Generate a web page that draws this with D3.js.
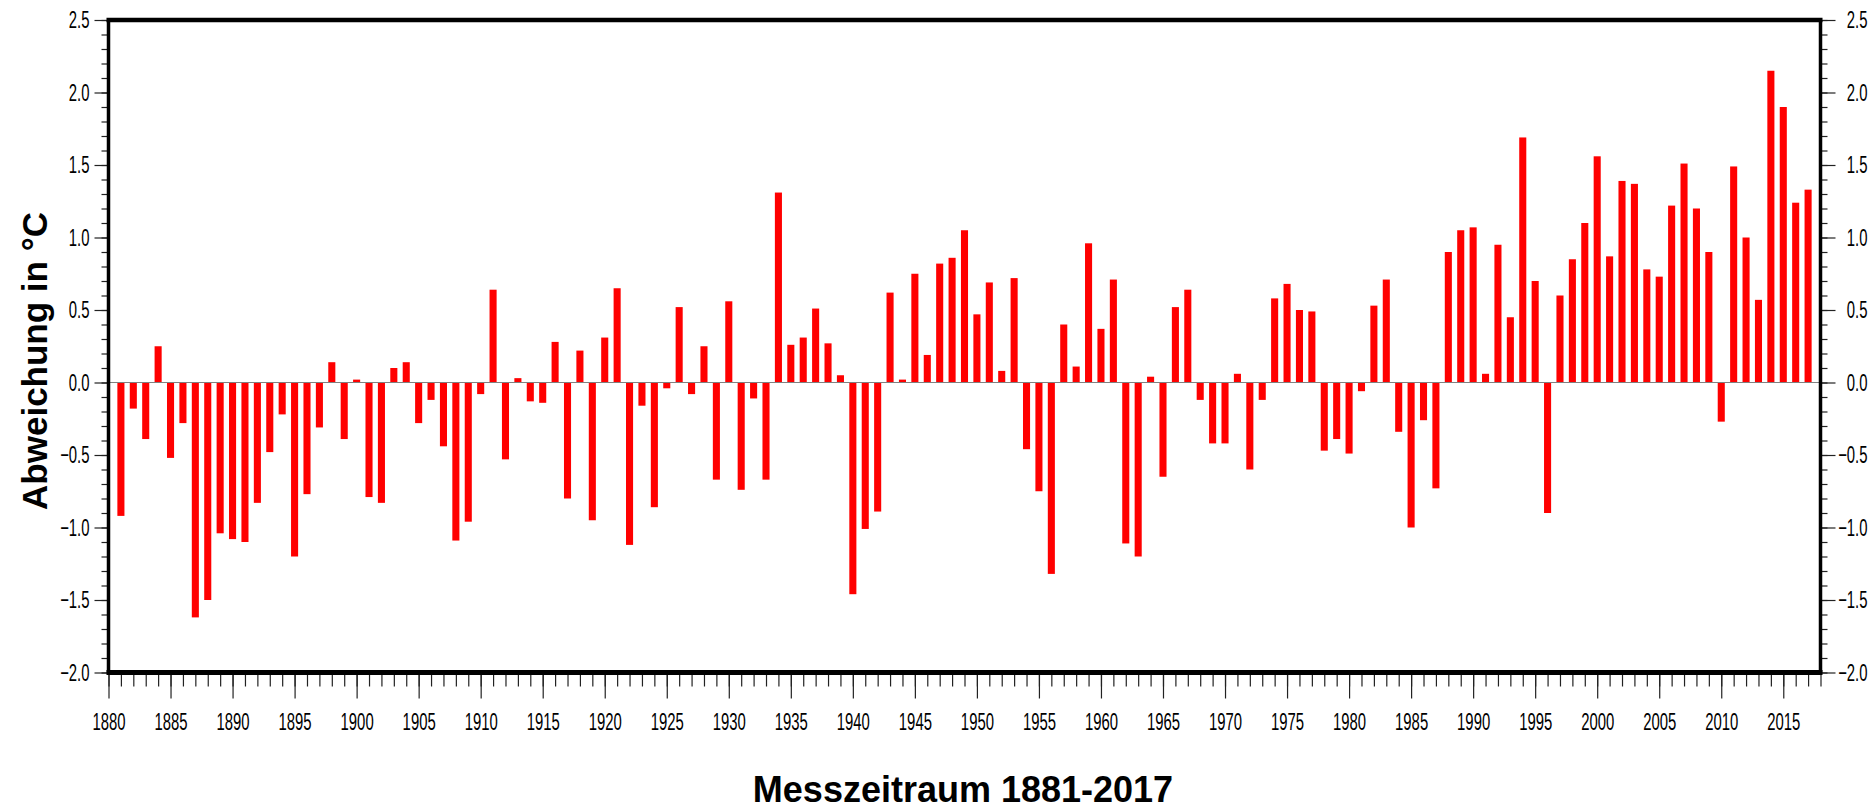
<!DOCTYPE html>
<html>
<head>
<meta charset="utf-8">
<title>Abweichung</title>
<script src="https://cdn.jsdelivr.net/npm/d3@7/dist/d3.min.js"></script>
<style>
body { margin: 0; background: #fff; }
</style>
</head>
<body>
<script>

// years of the measuring period
var years = [
    1881, 1882, 1883, 1884, 1885, 1886, 1887, 1888, 1889, 1890,
    1891, 1892, 1893, 1894, 1895, 1896, 1897, 1898, 1899, 1900,
    1901, 1902, 1903, 1904, 1905, 1906, 1907, 1908, 1909, 1910,
    1911, 1912, 1913, 1914, 1915, 1916, 1917, 1918, 1919, 1920,
    1921, 1922, 1923, 1924, 1925, 1926, 1927, 1928, 1929, 1930,
    1931, 1932, 1933, 1934, 1935, 1936, 1937, 1938, 1939, 1940,
    1941, 1942, 1943, 1944, 1945, 1946, 1947, 1948, 1949, 1950,
    1951, 1952, 1953, 1954, 1955, 1956, 1957, 1958, 1959, 1960,
    1961, 1962, 1963, 1964, 1965, 1966, 1967, 1968, 1969, 1970,
    1971, 1972, 1973, 1974, 1975, 1976, 1977, 1978, 1979, 1980,
    1981, 1982, 1983, 1984, 1985, 1986, 1987, 1988, 1989, 1990,
    1991, 1992, 1993, 1994, 1995, 1996, 1997, 1998, 1999, 2000,
    2001, 2002, 2003, 2004, 2005, 2006, 2007, 2008, 2009, 2010,
    2011, 2012, 2013, 2014, 2015, 2016, 2017
];

// deviation in degrees C, one per year
var deviation = [
    -0.92, -0.18, -0.39,  0.25, -0.52, -0.28, -1.62, -1.50, -1.04, -1.08,
    -1.10, -0.83, -0.48, -0.22, -1.20, -0.77, -0.31,  0.14, -0.39,  0.02,
    -0.79, -0.83,  0.10,  0.14, -0.28, -0.12, -0.44, -1.09, -0.96, -0.08,
     0.64, -0.53,  0.03, -0.13, -0.14,  0.28, -0.80,  0.22, -0.95,  0.31,
     0.65, -1.12, -0.16, -0.86, -0.04,  0.52, -0.08,  0.25, -0.67,  0.56,
    -0.74, -0.11, -0.67,  1.31,  0.26,  0.31,  0.51,  0.27,  0.05, -1.46,
    -1.01, -0.89,  0.62,  0.02,  0.75,  0.19,  0.82,  0.86,  1.05,  0.47,
     0.69,  0.08,  0.72, -0.46, -0.75, -1.32,  0.40,  0.11,  0.96,  0.37,
     0.71, -1.11, -1.20,  0.04, -0.65,  0.52,  0.64, -0.12, -0.42, -0.42,
     0.06, -0.60, -0.12,  0.58,  0.68,  0.50,  0.49, -0.47, -0.39, -0.49,
    -0.06,  0.53,  0.71, -0.34, -1.00, -0.26, -0.73,  0.90,  1.05,  1.07,
     0.06,  0.95,  0.45,  1.69,  0.70, -0.90,  0.60,  0.85,  1.10,  1.56,
     0.87,  1.39,  1.37,  0.78,  0.73,  1.22,  1.51,  1.20,  0.90, -0.27,
     1.49,  1.00,  0.57,  2.15,  1.90,  1.24,  1.33
];

// tick labels
var yTickLabels = [-2.0, -1.5, -1.0, -0.5, 0.0, 0.5, 1.0, 1.5, 2.0, 2.5];
var xTickLabels = [1880, 1885, 1890, 1895, 1900, 1905, 1910, 1915, 1920, 1925,
                   1930, 1935, 1940, 1945, 1950, 1955, 1960, 1965, 1970, 1975,
                   1980, 1985, 1990, 1995, 2000, 2005, 2010, 2015];

var yTitle = "Abweichung in °C";
var xTitle = "Messzeitraum 1881-2017";

window.onload = function(){

    var W = 1875, H = 812;
    var plot = {left: 108.5, right: 1820.5, top: 20, bottom: 672.5};

    // narrow look of the tick labels
    var squeeze = 0.62;
    var labelFont = "'Liberation Sans', Arial, sans-serif";
    var labelSize = "24px";

    var svg = d3.select("body")
        .append("svg")
        .attr("width", W)
        .attr("height", H)
        .style("display", "block");

    svg.append("rect").attr("width", W).attr("height", H).attr("fill", "#fff");

    // scales
    var xscale = d3.scaleLinear().domain([1880, 2018]).range([plot.left, plot.right]);
    var yscale = d3.scaleLinear().domain([-2.0, 2.5]).range([plot.bottom, plot.top]);

    var yMinor = d3.range(-20, 26).map(function(d){ return d / 10; });
    var xMinor = d3.range(1880, 2019);

    // bars
    var step = xscale(1881) - xscale(1880);
    var bw = step * 0.57;
    var data = years.map(function(y, i){ return [y, deviation[i]]; });

    svg.selectAll(".bar")
        .data(data)
        .enter()
        .append("rect")
        .attr("class", "bar")
        .attr("x", function(d){ return xscale(d[0]) - bw / 2; })
        .attr("y", function(d){ return yscale(Math.max(0, d[1])); })
        .attr("width", bw)
        .attr("height", function(d){ return Math.abs(yscale(d[1]) - yscale(0)); })
        .attr("fill", "#ff0000");

    // zero line
    svg.append("line")
        .attr("x1", plot.left).attr("x2", plot.right)
        .attr("y1", yscale(0)).attr("y2", yscale(0))
        .attr("stroke", "#808080").attr("stroke-width", 1.2);

    function clean(g){
        g.select(".domain").remove();
        g.selectAll(".tick line").attr("stroke", "#222").attr("stroke-width", 1.2);
    }

    // left axis
    svg.append("g")
        .attr("transform", "translate(" + plot.left + ",0)")
        .call(d3.axisLeft(yscale).tickValues(yMinor).tickSize(7).tickFormat(""))
        .call(clean);

    var left = svg.append("g")
        .attr("transform", "translate(" + plot.left + ",0)")
        .call(d3.axisLeft(yscale).tickValues(yTickLabels).tickSize(14).tickFormat(d3.format(".1f")))
        .call(clean);
    left.selectAll("text")
        .attr("x", -19 / squeeze)
        .attr("transform", "scale(" + squeeze + ",1)")
        .attr("font-family", labelFont).attr("font-size", labelSize).attr("fill", "#000");

    // right axis
    svg.append("g")
        .attr("transform", "translate(" + plot.right + ",0)")
        .call(d3.axisRight(yscale).tickValues(yMinor).tickSize(7).tickFormat(""))
        .call(clean);

    var right = svg.append("g")
        .attr("transform", "translate(" + plot.right + ",0)")
        .call(d3.axisRight(yscale).tickValues(yTickLabels).tickSize(15).tickFormat(d3.format(".1f")))
        .call(clean);
    right.selectAll("text")
        .attr("x", 47 / squeeze)
        .style("text-anchor", "end")
        .attr("transform", "scale(" + squeeze + ",1)")
        .attr("font-family", labelFont).attr("font-size", labelSize).attr("fill", "#000");

    // bottom axis
    svg.append("g")
        .attr("transform", "translate(0," + plot.bottom + ")")
        .call(d3.axisBottom(xscale).tickValues(xMinor).tickSize(14).tickFormat(""))
        .call(clean);

    var bottom = svg.append("g")
        .attr("transform", "translate(0," + plot.bottom + ")")
        .call(d3.axisBottom(xscale).tickValues(xTickLabels).tickSize(26).tickPadding(14).tickFormat(d3.format("d")))
        .call(clean);
    bottom.selectAll("text")
        .attr("transform", "scale(" + squeeze + ",1)")
        .attr("font-family", labelFont).attr("font-size", labelSize).attr("fill", "#000");

    // frame
    svg.append("line").attr("x1", plot.left - 2).attr("x2", plot.right + 2)
        .attr("y1", plot.top).attr("y2", plot.top)
        .attr("stroke", "#000").attr("stroke-width", 4.5);
    svg.append("line").attr("x1", plot.left - 2).attr("x2", plot.right + 2)
        .attr("y1", plot.bottom).attr("y2", plot.bottom)
        .attr("stroke", "#000").attr("stroke-width", 5);
    svg.append("line").attr("x1", plot.left).attr("x2", plot.left)
        .attr("y1", plot.top).attr("y2", plot.bottom)
        .attr("stroke", "#000").attr("stroke-width", 3.5);
    svg.append("line").attr("x1", plot.right).attr("x2", plot.right)
        .attr("y1", plot.top).attr("y2", plot.bottom)
        .attr("stroke", "#000").attr("stroke-width", 3.5);

    // titles
    svg.append("text")
        .text(yTitle)
        .attr("transform", "translate(47,361) rotate(-90)")
        .attr("text-anchor", "middle")
        .attr("font-family", labelFont).attr("font-weight", "bold").attr("font-size", "35px");

    svg.append("text")
        .text(xTitle)
        .attr("x", 963)
        .attr("y", 802)
        .attr("text-anchor", "middle")
        .attr("font-family", labelFont).attr("font-weight", "bold").attr("font-size", "36px");
};
</script>
</body>
</html>
